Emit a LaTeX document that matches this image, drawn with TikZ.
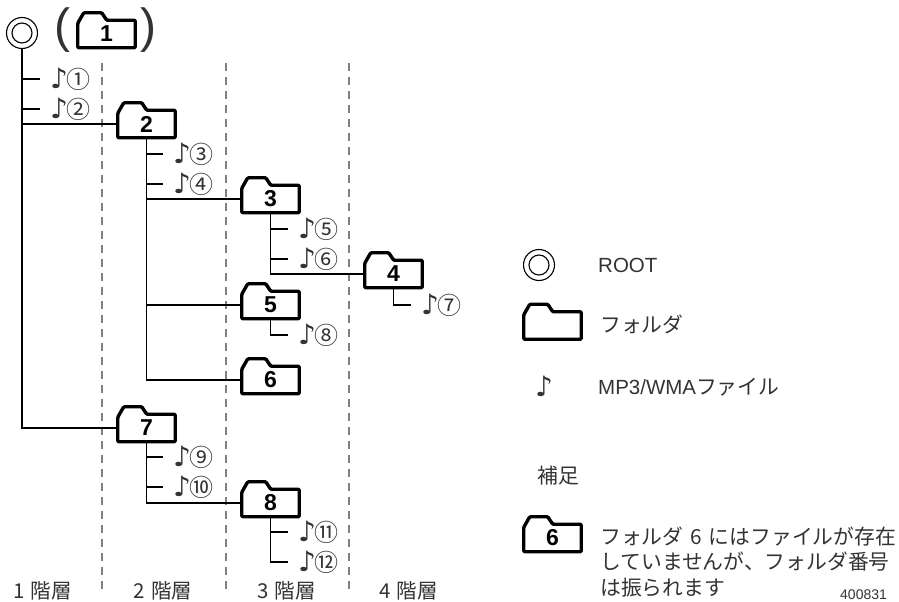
\documentclass[tikz,border=0pt]{standalone}
\usepackage{fontspec}
\setmainfont{Liberation Sans}
\newfontfamily\cjk{Noto Sans CJK JP}
\newfontfamily\notefont{DejaVu Sans}
\usetikzlibrary{positioning}
\definecolor{fgray}{HTML}{333333}
\definecolor{dashgray}{HTML}{808080}
\tikzset{
  treeline/.style={black,line width=1.3pt},
  levelline/.style={dashgray,line width=1.2pt,dash pattern=on 8pt off 6pt},
  folderline/.style={black,line width=3.4pt,rounded corners=1pt,line join=round},
  folderbody/.style={minimum width=57.5,minimum height=27.5,inner sep=0pt,outer sep=0pt,
    font=\fontsize{23}{23}\selectfont\bfseries},
  rootring/.style={circle,draw=black,line width=1.1pt,minimum size=31,inner sep=0pt,outer sep=0pt},
  rootcore/.style={circle,draw=black,line width=1.1pt,minimum size=20,inner sep=0pt},
  notelabel/.style={anchor=west,inner xsep=10pt,inner ysep=0pt,text=fgray,
    font=\cjk\fontsize{24}{24}\selectfont},
  leveltext/.style={text=fgray,font=\cjk\fontsize{20.5}{20.5}\selectfont},
  legendtext/.style={anchor=west,inner sep=0pt,text=fgray,font=\cjk\fontsize{20.8}{20.8}\selectfont},
  latintext/.style={anchor=west,inner sep=0pt,text=fgray,font=\fontsize{20.5}{20.5}\selectfont},
  parentext/.style={text=fgray,inner sep=0pt,font=\fontsize{48}{48}\selectfont}
}
% folder: body node carries the number, tab and outline drawn round it
\newcommand{\folder}[3]{%
  \node[folderbody] (#1) at (#2) {#3};
  \draw[folderline] ([shift={(0,3)}]#1.north west) -- ++(6,-10.5) -- ++(18,0) -- ++(5,7.5)
    -| (#1.south east) -- (#1.south west) -- cycle;
}
\newcommand{\notemark}[1]{{\notefont\fontsize{28}{28}\selectfont ♪}\kern-2pt #1}
\begin{document}
\begin{tikzpicture}[x=1pt,y=-1pt]
  \useasboundingbox (0,0) rectangle (899,602);

  % ---- Level separators ---------------------------------
  \draw[levelline] (102,63) -- (102,592);
  \draw[levelline] (226,63) -- (226,592);
  \draw[levelline] (349,63) -- (349,592);

  % ---- Root and top folder ------------------------------
  \node[rootring] (root) at (22,33) {};
  \node[rootcore] (rootin) at (root) {};
  \node[parentext] (lparen) at (62,30) {(};
  \node[parentext] (rparen) at (148,30) {)};
  \folder{f1}{106.5,34}{1}

  % ---- Folders ------------------------------------------
  \folder{f2}{146.5,124}{2}
  \folder{f3}{270.5,199}{3}
  \folder{f4}{393.5,274}{4}
  \folder{f5}{270.5,305}{5}
  \folder{f6}{270.5,380}{6}
  \folder{f7}{146.5,428}{7}
  \folder{f8}{270.5,503}{8}

  % ---- Files --------------------------------------------
  \node[notelabel] (n1) at (40,79) {\notemark{①}};
  \node[notelabel] (n2) at (40,109) {\notemark{②}};
  \node[notelabel] (n3) at (163,154) {\notemark{③}};
  \node[notelabel] (n4) at (163,184) {\notemark{④}};
  \node[notelabel] (n5) at (288,229) {\notemark{⑤}};
  \node[notelabel] (n6) at (288,259) {\notemark{⑥}};
  \node[notelabel] (n7) at (411,305) {\notemark{⑦}};
  \node[notelabel] (n8) at (288,335) {\notemark{⑧}};
  \node[notelabel] (n9) at (163,457) {\notemark{⑨}};
  \node[notelabel] (n10) at (163,487) {\notemark{⑩}};
  \node[notelabel] (n11) at (288,532) {\notemark{⑪}};
  \node[notelabel] (n12) at (288,562) {\notemark{⑫}};

  % ---- Tree ---------------------------------------------
  \draw[treeline] (root) |- (n1);
  \draw[treeline] (root) |- (n2);
  \draw[treeline] (root) |- (f2);
  \draw[treeline] (root) |- (f7);
  \draw[treeline] (f2) |- (n3);
  \draw[treeline] (f2) |- (n4);
  \draw[treeline] (f2) |- (f3);
  \draw[treeline] (f2) |- (f5);
  \draw[treeline] (f2) |- (f6);
  \draw[treeline] (f3) |- (n5);
  \draw[treeline] (f3) |- (n6);
  \draw[treeline] (f3) |- (f4);
  \draw[treeline] (f4) |- (n7);
  \draw[treeline] (f5) |- (n8);
  \draw[treeline] (f7) |- (n9);
  \draw[treeline] (f7) |- (n10);
  \draw[treeline] (f7) |- (f8);
  \draw[treeline] (f8) |- (n11);
  \draw[treeline] (f8) |- (n12);

  % ---- Level names --------------------------------------
  \node[leveltext] (lv1) at (42.5,591) {1\hspace{6pt}階層};
  \node[leveltext] (lv2) at (163,591) {2\hspace{6pt}階層};
  \node[leveltext] (lv3) at (286.5,591) {3\hspace{6pt}階層};
  \node[leveltext] (lv4) at (408.5,591) {4\hspace{6pt}階層};

  % ---- Legend -------------------------------------------
  \node[rootring] (legroot) at (539,265) {};
  \node[rootcore] (legrootin) at (legroot) {};
  \node[latintext] (legroottext) at (598,265) {ROOT};
  \folder{legf}{552.5,325.5}{}
  \node[legendtext] (legftext) at (600,324) {フォルダ};
  \node[anchor=center,inner sep=0pt,text=fgray,font=\notefont\fontsize{28}{28}\selectfont] (legnote) at (544,386) {♪};
  \node[latintext] (legnotetext) at (598,387) {MP3/WMA{\cjk\fontsize{20.8}{20.8}\selectfont ファイル}};
  \node[legendtext] (legnotes) at (537,476) {補足};
  \folder{legsix}{552.5,538}{6}
  \node[legendtext,align=left,font=\cjk\fontsize{20.8}{25.5}\selectfont] (legsixtext) at (600,562)
    {フォルダ\hspace{7pt}6\hspace{7pt}にはファイルが存在\\していませんが、フォルダ番号\\は振られます};
  \node[anchor=west,inner sep=0pt,text=fgray,font=\fontsize{14}{14}\selectfont] (code) at (840,595) {400831};
\end{tikzpicture}
\end{document}
